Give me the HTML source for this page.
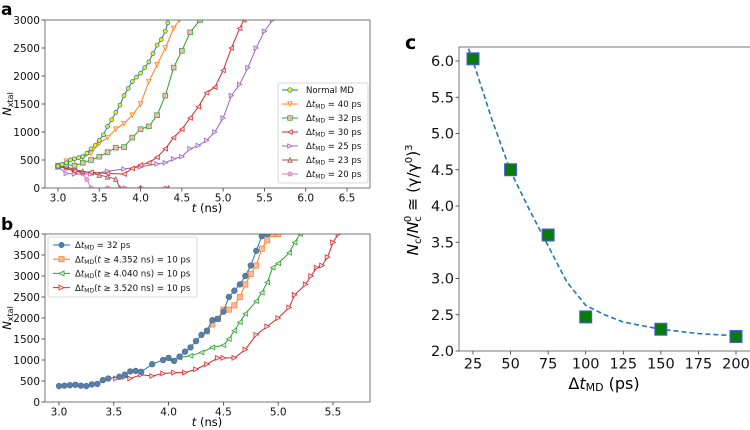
<!DOCTYPE html>
<html><head><meta charset="utf-8"><style>
html,body{margin:0;padding:0;background:#fff;}
svg{display:block;font-family:"DejaVu Sans","Liberation Sans",sans-serif;}
</style></head><body>
<svg id="fig" width="750" height="430" viewBox="0 0 750 430"></svg>
<script>
// ---------- DATA: panel a ----------
const aNormalT=[3.0,3.05,3.1,3.15,3.2,3.25,3.3,3.35,3.4,3.45,3.5,3.55,3.6,3.65,3.7,3.75,3.8,3.85,3.9,3.95,4.0,4.05,4.1,4.15,4.2,4.25,4.3,4.33];
const aNormalN=[390,420,450,500,520,540,560,620,700,760,850,950,1100,1220,1350,1480,1650,1780,1900,1980,2050,2150,2250,2400,2550,2650,2800,2950];
const a40T=[3.0,3.1,3.2,3.3,3.4,3.5,3.6,3.7,3.8,3.9,4.0,4.1,4.2,4.3,4.4,4.47];
const a40N=[390,480,500,540,620,800,900,1050,1150,1300,1500,1900,2200,2500,2850,3000];
const a32T=[3.0,3.1,3.2,3.3,3.4,3.5,3.6,3.7,3.8,3.9,4.0,4.1,4.2,4.3,4.4,4.5,4.6,4.72];
const a32N=[400,420,400,450,500,560,640,720,730,900,1050,1100,1300,1650,2150,2450,2780,3000];
const a30T=[3.0,3.2,3.4,3.6,3.8,3.9,4.0,4.1,4.2,4.3,4.4,4.5,4.6,4.7,4.8,4.9,5.0,5.1,5.2,5.25];
const a30N=[400,300,280,260,250,350,410,450,550,700,900,1050,1250,1450,1700,1800,2100,2500,2850,3000];
const a25T=[3.0,3.1,3.2,3.4,3.6,3.8,4.0,4.2,4.3,4.4,4.5,4.6,4.7,4.8,4.9,5.0,5.1,5.2,5.3,5.4,5.5,5.6];
const a25N=[380,260,250,250,300,340,380,430,450,520,560,700,760,850,1000,1250,1650,1850,2150,2500,2800,3000];
const a23T=[3.0,3.1,3.2,3.3,3.4,3.5,3.6,3.7,3.75,4.0,4.34];
const a23N=[380,380,330,300,270,230,200,160,0,0,0];
const a20T=[3.0,3.1,3.2,3.3,3.35,3.4,3.6,3.8,4.0,4.3];
const a20N=[380,350,320,250,150,0,0,0,0,0];
const aXTicks=[3.0,3.5,4.0,4.5,5.0,5.5,6.0,6.5];
const aYTicks=[0,500,1000,1500,2000,2500,3000];
// ---------- DATA: panel b ----------
const b32T=[3.0,3.05,3.1,3.15,3.2,3.25,3.3,3.35,3.4,3.45,3.55,3.6,3.65,3.7,3.75,3.85,3.95,4.0,4.05,4.1,4.15,4.2,4.25,4.3,4.35,4.4,4.45,4.5,4.55,4.6,4.65,4.7,4.75,4.8,4.85,4.9];
const b32N=[380,390,400,410,390,380,420,430,520,560,600,650,730,740,720,900,1000,1050,980,1080,1200,1300,1450,1600,1700,1950,1980,2150,2500,2650,2800,3000,3250,3600,3950,4000];
const b4352T=[4.35,4.4,4.45,4.5,4.55,4.6,4.65,4.7,4.75,4.8,4.85,4.9,4.95,5.0];
const b4352N=[1680,1850,1980,2200,2200,2300,2500,2800,3050,3250,3650,3850,4000,4000];
const b4040T=[4.04,4.1,4.2,4.3,4.4,4.5,4.55,4.6,4.65,4.7,4.8,4.85,4.9,4.95,5.0,5.1,5.15,5.2];
const b4040N=[980,1060,1100,1180,1300,1350,1500,1700,1900,2100,2400,2600,2850,3200,3300,3550,3800,4000];
const b3520T=[3.52,3.6,3.65,3.75,3.85,3.95,4.05,4.15,4.25,4.35,4.45,4.5,4.6,4.7,4.8,4.9,5.0,5.1,5.15,5.25,5.3,5.35,5.4,5.45,5.5,5.55];
const b3520N=[560,600,560,650,620,680,700,700,780,900,1050,1050,1050,1250,1600,1800,2000,2250,2550,2800,3000,3200,3250,3450,3800,4000];
const bXTicks=[3.0,3.5,4.0,4.5,5.0,5.5];
const bYTicks=[0,500,1000,1500,2000,2500,3000,3500,4000];
// ---------- DATA: panel c ----------
const cDt=[25,50,75,100,150,200];
const cRatio=[6.03,4.5,3.6,2.47,2.3,2.2];
const cFitX=[22,25,37.5,50,62.5,75,87.5,100,112.5,125,150,175,200,206];
const cFitY=[6.17,6.0,5.2,4.48,3.95,3.45,2.95,2.63,2.5,2.4,2.3,2.24,2.21,2.2];
const cXTicks=[25,50,75,100,125,150,175,200];
const cYTicks=[2.0,2.5,3.0,3.5,4.0,4.5,5.0,5.5,6.0];

const NS="http://www.w3.org/2000/svg";
const svg=document.getElementById('fig');
function mk(tag,attrs,parent){const e=document.createElementNS(NS,tag);for(const k in attrs)e.setAttribute(k,attrs[k]);(parent||svg).appendChild(e);return e;}
function lin(d0,d1,r0,r1){return v=>r0+(v-d0)*(r1-r0)/(d1-d0);}

function marker(g,shape,x,y,s,fill,stroke){
  let e;
  if(shape==='o'){e=mk('circle',{cx:x,cy:y,r:s,fill:fill,stroke:stroke,'stroke-width':0.7},g);}
  else if(shape==='s'){e=mk('rect',{x:x-s,y:y-s,width:2*s,height:2*s,fill:fill,stroke:stroke,'stroke-width':0.7},g);}
  else{
    let pts;
    if(shape==='v')pts=[[x-s,y-s],[x+s,y-s],[x,y+s]];
    else if(shape==='^')pts=[[x-s,y+s],[x+s,y+s],[x,y-s]];
    else if(shape==='<')pts=[[x+s,y-s],[x+s,y+s],[x-s,y]];
    else if(shape==='>')pts=[[x-s,y-s],[x-s,y+s],[x+s,y]];
    else {pts=[];for(let i=0;i<5;i++){const a=-Math.PI/2+i*2*Math.PI/5;pts.push([x+s*Math.cos(a),y+s*Math.sin(a)]);}}
    e=mk('polygon',{points:pts.map(p=>p.join(',')).join(' '),fill:fill,stroke:stroke,'stroke-width':0.7},g);
  }
  return e;
}

function axes(name,x0,y0,x1,y1,sx,sy,xt,yt,xfmt,yfmt,fs){
  const g=mk('g',{});
  
  
  xt.forEach(v=>{const X=sx(v);mk('line',{x1:X,x2:X,y1:y1,y2:y1+3.5,stroke:'#333','stroke-width':0.8},g);
    const t=mk('text',{x:X,y:y1+4+fs*0.92,'font-size':fs,'text-anchor':'middle',fill:'#111'},g);t.textContent=xfmt(v);
    });
  yt.forEach(v=>{const Y=sy(v);mk('line',{x1:x0-3.5,x2:x0,y1:Y,y2:Y,stroke:'#333','stroke-width':0.8},g);
    const t=mk('text',{x:x0-5,y:Y+fs*0.36,'font-size':fs,'text-anchor':'end',fill:'#111'},g);t.textContent=yfmt(v);
    });
  return g;
}
function series(name,T,N,sx,sy,col,shape,ms,fill,edge,clip,sw){
  const g=mk('g',{'clip-path':'url(#'+clip+')'});
  
  
  mk('polyline',{points:T.map((t,i)=>sx(t)+','+sy(N[i])).join(' '),fill:'none',stroke:col,'stroke-width':sw||1},g);
  T.forEach((t,i)=>{marker(g,shape,sx(t),sy(N[i]),ms,fill,edge);});
}
const defs=mk('defs',{});
function clipRect(id,x,y,w,h){const c=mk('clipPath',{id:id},defs);mk('rect',{x:x,y:y,width:w,height:h},c);}

// ---------- Panel a ----------
const A={x0:45,y0:20,x1:370,y1:188};
clipRect('ca',A.x0,A.y0,A.x1-A.x0,A.y1-A.y0);
const sxA=lin(3.0,6.5,58,347), syA=lin(0,3000,188,20);
axes('panel-a',A.x0,A.y0,A.x1,A.y1,sxA,syA,aXTicks,aYTicks,v=>v.toFixed(1),v=>String(v),10.5);
const C={blue:'#1f77b4',orange:'#ff7f0e',green:'#2ca02c',red:'#d62728',purple:'#9467bd',brown:'#8c564b',pink:'#e377c2'};
series('series-20ps',a20T,a20N,sxA,syA,C.pink,'p',2.4,'#f0a8dc',C.pink,'ca');
series('series-23ps',a23T,a23N,sxA,syA,C.brown,'^',2.3,'#f4b6b6',C.brown,'ca');
series('series-25ps',a25T,a25N,sxA,syA,C.purple,'>',2.3,'#f4c6f0',C.purple,'ca');
series('series-30ps',a30T,a30N,sxA,syA,C.red,'<',2.3,'#fbd0d0',C.red,'ca');
series('series-32ps',a32T,a32N,sxA,syA,C.green,'s',2.4,'#f4b6b6',C.green,'ca');
series('series-40ps',a40T,a40N,sxA,syA,C.orange,'v',2.3,'#fbd0d0',C.orange,'ca');
series('series-normal-md',aNormalT,aNormalN,sxA,syA,C.blue,'o',2.0,'#f0f000',C.blue,'ca');
mk('rect',{x:A.x0,y:A.y0,width:A.x1-A.x0,height:A.y1-A.y0,fill:'none',stroke:'#555','stroke-width':0.8});
(function(){
  const g=mk('g',{});
  mk('rect',{x:278,y:83,width:90,height:100,rx:2,fill:'#fff',stroke:'#ccc','stroke-width':0.8},g);
  const ent=[['Normal MD',C.blue,'o','#f0f000'],['40',C.orange,'v','#fbd0d0'],['32',C.green,'s','#f4b6b6'],['30',C.red,'<','#fbd0d0'],['25',C.purple,'>','#f4c6f0'],['23',C.brown,'^','#f4b6b6'],['20',C.pink,'p','#f0a8dc']];
  ent.forEach((e,i)=>{const y=90+i*14;
    const eg=mk('g',{},g);
    mk('line',{x1:282,x2:298,y1:y,y2:y,stroke:e[1],'stroke-width':1},eg);marker(eg,e[2],290,y,2.3,e[3],e[1]);
    const t=mk('text',{x:306,y:y+3.2,'font-size':8.6,fill:'#111'},eg);
    if(i===0)t.textContent='Normal MD';
    else t.innerHTML='Δ<tspan font-style="italic">t</tspan><tspan font-size="6" dy="1.5">MD</tspan><tspan dy="-1.5"> = '+e[0]+' ps</tspan>';
  });
})();
let t;
t=mk('text',{x:1,y:15,'font-size':17,'font-weight':'bold'});t.textContent='a';
t=mk('text',{x:207,y:212,'font-size':11.5,'text-anchor':'middle'});t.innerHTML='<tspan font-style="italic">t</tspan> (ns)';
t=mk('text',{x:0,y:0,'font-size':11.5,'text-anchor':'middle',transform:'translate(11,104) rotate(-90)'});t.innerHTML='<tspan font-style="italic">N</tspan><tspan font-size="8" dy="2">xtal</tspan>';

// ---------- Panel b ----------
const B={x0:45,y0:234,x1:370,y1:402};
clipRect('cb',B.x0,B.y0,B.x1-B.x0,B.y1-B.y0+3);
const sxB=lin(3.0,5.5,59,333), syB=lin(0,4000,402,234);
axes('panel-b',B.x0,B.y0,B.x1,B.y1,sxB,syB,bXTicks,bYTicks,v=>v.toFixed(1),v=>String(v),10.5);
series('series-b-3520',b3520T,b3520N,sxB,syB,C.red,'>',2.4,'#fbd0d0',C.red,'cb');
series('series-b-4040',b4040T,b4040N,sxB,syB,C.green,'<',2.4,'#c8ecc8',C.green,'cb');
series('series-b-4352',b4352T,b4352N,sxB,syB,C.orange,'s',2.6,'#f8b8b0',C.orange,'cb');
series('series-b-32ps',b32T,b32N,sxB,syB,C.blue,'o',2.8,'#5a7fa6','#4a6f96','cb');
mk('rect',{x:B.x0,y:B.y0,width:B.x1-B.x0,height:B.y1-B.y0,fill:'none',stroke:'#555','stroke-width':0.8});
(function(){
  const g=mk('g',{});
  mk('rect',{x:48,y:237,width:149,height:60,rx:2,fill:'#fff',stroke:'#ccc','stroke-width':0.8},g);
  const ent=[['',C.blue,'o','#5a7fa6'],['4.352',C.orange,'s','#f8b8b0'],['4.040',C.green,'<','#c8ecc8'],['3.520',C.red,'>','#fbd0d0']];
  ent.forEach((e,i)=>{const y=245+i*14.2;
    const eg=mk('g',{},g);
    mk('line',{x1:53,x2:70,y1:y,y2:y,stroke:e[1],'stroke-width':1},eg);marker(eg,e[2],61.5,y,2.6,e[3],e[1]);
    const t=mk('text',{x:75,y:y+3.2,'font-size':8.6,fill:'#111'},eg);
    const pre='Δ<tspan font-style="italic">t</tspan><tspan font-size="6" dy="1.5">MD</tspan>';
    if(i===0)t.innerHTML=pre+'<tspan dy="-1.5"> = 32 ps</tspan>';
    else t.innerHTML=pre+'<tspan dy="-1.5">(</tspan><tspan font-style="italic">t</tspan> ≥ '+e[0]+' ns) = 10 ps';
  });
})();
t=mk('text',{x:1,y:230,'font-size':17,'font-weight':'bold'});t.textContent='b';
t=mk('text',{x:207,y:426,'font-size':11.5,'text-anchor':'middle'});t.innerHTML='<tspan font-style="italic">t</tspan> (ns)';
t=mk('text',{x:0,y:0,'font-size':11.5,'text-anchor':'middle',transform:'translate(11,318) rotate(-90)'});t.innerHTML='<tspan font-style="italic">N</tspan><tspan font-size="8" dy="2">xtal</tspan>';

// ---------- Panel c ----------
const Cc={x0:459,y0:47,x1:749,y1:351};
clipRect('cc',Cc.x0,Cc.y0,Cc.x1-Cc.x0,Cc.y1-Cc.y0);
const sxC=lin(25,200,473,736), syC=lin(2.0,6.0,351,61);
axes('panel-c',Cc.x0,Cc.y0,Cc.x1,Cc.y1,sxC,syC,cXTicks,cYTicks,v=>String(v),v=>v.toFixed(1),14.5);
(function(){
  const g=mk('g',{'clip-path':'url(#cc)'});
  mk('polyline',{points:cFitX.map((x,i)=>sxC(x)+','+syC(cFitY[i])).join(' '),fill:'none',stroke:'#1f77b4','stroke-width':1.6,'stroke-dasharray':'5,3','stroke-linejoin':'round'},g);
  const g2=mk('g',{});
  cDt.forEach((x,i)=>{const m=marker(g2,'s',sxC(x),syC(cRatio[i]),6,'#0a7a0a','#4a5af0');m.setAttribute('stroke-width','1');});
})();
mk('rect',{x:Cc.x0,y:Cc.y0,width:Cc.x1-Cc.x0+2,height:Cc.y1-Cc.y0,fill:'none',stroke:'#555','stroke-width':0.8});
t=mk('text',{x:405,y:49,'font-size':19,'font-weight':'bold'});t.textContent='c';
t=mk('text',{x:604,y:389,'font-size':16,'text-anchor':'middle'});t.innerHTML='Δ<tspan font-style="italic">t</tspan><tspan font-size="11" dy="2">MD</tspan><tspan dy="-2"> (ps)</tspan>';
t=mk('text',{x:0,y:0,'font-size':15.5,'text-anchor':'middle',transform:'translate(418,200) rotate(-90)'});
t.innerHTML='<tspan font-style="italic">N</tspan><tspan font-size="10" dy="3">c</tspan><tspan dy="-3">/</tspan><tspan font-style="italic">N</tspan><tspan font-size="10" dy="3">c</tspan><tspan font-size="10" dx="-6" dy="-10">0</tspan><tspan dy="7"> ≅ (γ/γ</tspan><tspan font-size="10" dy="-6">0</tspan><tspan dy="6">)</tspan><tspan font-size="10" dy="-6">3</tspan>';

</script>
</body></html>
